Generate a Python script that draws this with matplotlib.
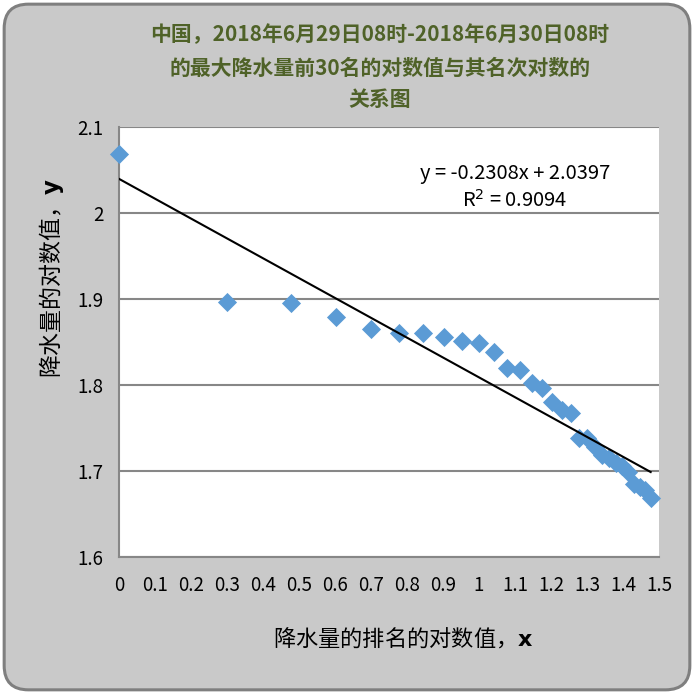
#降水量排名对数关系图
from matplotlib import pyplot as plt
from matplotlib.patches import FancyBboxPatch

plt.rcParams['font.family'] = ['Noto Sans CJK SC', 'DejaVu Sans']

# 排名的对数值 (x) 与 降水量的对数值 (y)
x = [0, 0.301, 0.477, 0.602, 0.699, 0.778, 0.845, 0.903, 0.954, 1.0,
     1.041, 1.079, 1.114, 1.146, 1.176, 1.204, 1.230, 1.255, 1.279, 1.301,
     1.322, 1.342, 1.362, 1.380, 1.398, 1.415, 1.431, 1.447, 1.462, 1.477]
y = [2.069, 1.896, 1.895, 1.879, 1.865, 1.861, 1.860, 1.856, 1.851, 1.849,
     1.838, 1.820, 1.818, 1.802, 1.796, 1.780, 1.771, 1.767, 1.738, 1.738,
     1.728, 1.719, 1.715, 1.709, 1.706, 1.699, 1.685, 1.681, 1.678, 1.669]

# 趋势线
slope = -0.2308
intercept = 2.0397
r2 = 0.9094

xticks = [0, 0.1, 0.2, 0.3, 0.4, 0.5, 0.6, 0.7, 0.8, 0.9, 1, 1.1, 1.2, 1.3, 1.4, 1.5]
xtick_labels = ['0', '0.1', '0.2', '0.3', '0.4', '0.5', '0.6', '0.7', '0.8', '0.9',
                '1', '1.1', '1.2', '1.3', '1.4', '1.5']
yticks = [1.6, 1.7, 1.8, 1.9, 2.0, 2.1]
ytick_labels = ['1.6', '1.7', '1.8', '1.9', '2', '2.1']

fig = plt.figure(figsize=(6.94, 6.94), dpi=100)
fig.patch.set_facecolor('white')

# 外框
bg = FancyBboxPatch((0.006, 0.006), 0.988, 0.988,
                    boxstyle="round,pad=0,rounding_size=0.035",
                    transform=fig.transFigure, facecolor='#C9C9C9',
                    edgecolor='#7F7F7F', linewidth=2.2, zorder=-5)
fig.patches.append(bg)

ax = fig.add_axes([0.1715, 0.1974, 0.778, 0.6196])
ax.set_zorder(2)
ax.set_facecolor('white')
ax.set_xlim(0, 1.5)
ax.set_ylim(1.6, 2.1)

ax.set_yticks(yticks)
ax.set_yticklabels(ytick_labels)
ax.set_xticks(xticks)
ax.set_xticklabels(xtick_labels)
ax.tick_params(length=0, labelsize=13.5, colors='black')
ax.tick_params(axis='x', pad=13)
ax.tick_params(axis='y', pad=11)

ax.grid(axis='y', color='#878787', linewidth=1.5)
ax.set_axisbelow(True)
for s in ['top', 'right']:
    ax.spines[s].set_visible(False)
for s in ['left', 'bottom']:
    ax.spines[s].set_color('#878787')
    ax.spines[s].set_linewidth(1.5)

ax.scatter(x, y, marker='D', s=95, color='#5B9BD5', zorder=3, clip_on=False,
           linewidths=0)

# 线性趋势线
xl = [x[0], x[-1]]
yl = [slope * v + intercept for v in xl]
ax.plot(xl, yl, color='black', linewidth=1.5, zorder=4)

ax.text(1.1, 2.0455, "y = %.4fx + %.4f" % (slope, intercept), ha='center',
        va='center', fontsize=14.5)
ax.text(1.1, 2.014, "R$^2$ = %.4f" % r2, ha='center', va='center', fontsize=14.5)

title_color = '#4F6228'
fig.text(380 / 694, 1 - 35 / 694, "中国，2018年6月29日08时-2018年6月30日08时",
         ha='center', va='center', fontsize=15, fontweight='bold', color=title_color)
fig.text(380 / 694, 1 - 68 / 694, "的最大降水量前30名的对数值与其名次对数的",
         ha='center', va='center', fontsize=15, fontweight='bold', color=title_color)
fig.text(380 / 694, 1 - 100 / 694, "关系图",
         ha='center', va='center', fontsize=15, fontweight='bold', color=title_color)

fig.text(52 / 694, 1 - 278 / 694, r"降水量的对数值，$\mathbf{y}$", rotation=90,
         ha='center', va='center', fontsize=16.5)
fig.text(403 / 694, 1 - 638 / 694, r"降水量的排名的对数值，$\mathbf{x}$",
         ha='center', va='center', fontsize=16)

plt.savefig('out.png', dpi=100, facecolor=fig.get_facecolor())
